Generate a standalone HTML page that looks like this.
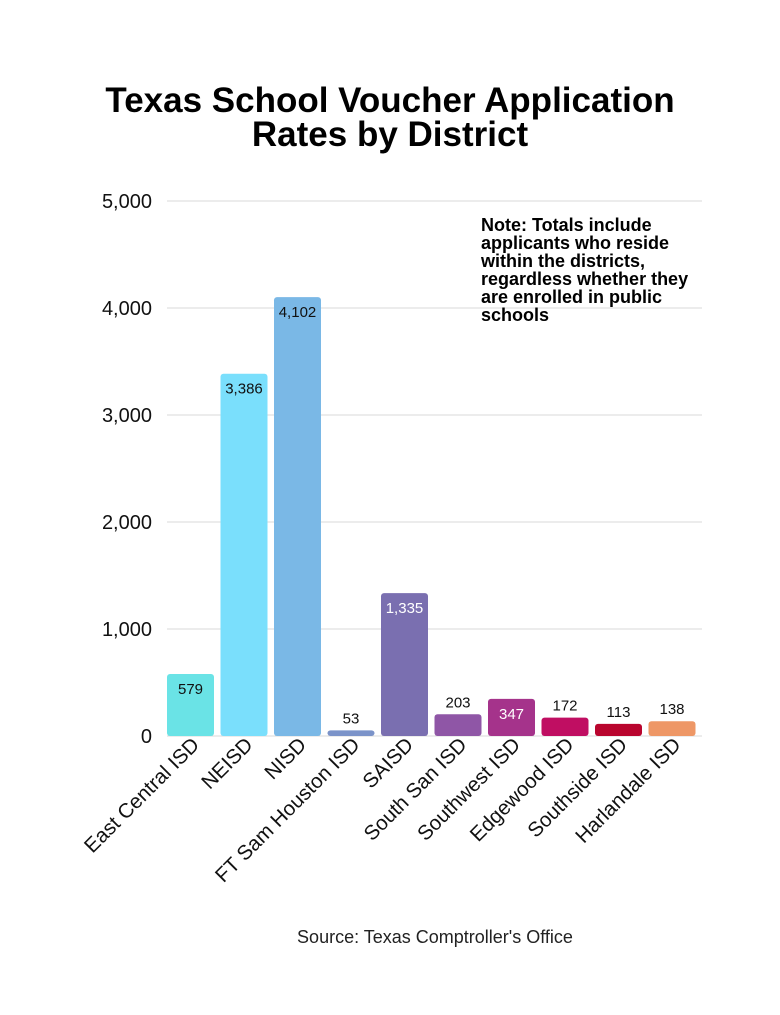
<!DOCTYPE html>
<html><head><meta charset="utf-8"><style>
body{margin:0;background:#fff;font-family:"Liberation Sans",sans-serif;}
</style></head><body>
<svg width="780" height="1010" viewBox="0 0 780 1010">
<text x="390" y="112" text-anchor="middle" font-size="35" font-weight="bold" fill="#000">Texas School Voucher Application</text>
<text x="390" y="146" text-anchor="middle" font-size="35" font-weight="bold" fill="#000">Rates by District</text>
<g id="grid"></g><g id="bars"></g><g id="xlabels"></g>
<text x="481" y="231" font-size="18" font-weight="bold"><tspan x="481" dy="0">Note: Totals include</tspan><tspan x="481" dy="18">applicants who reside</tspan><tspan x="481" dy="18">within the districts,</tspan><tspan x="481" dy="18">regardless whether they</tspan><tspan x="481" dy="18">are enrolled in public</tspan><tspan x="481" dy="18">schools</tspan></text>
<text x="435" y="943" text-anchor="middle" font-size="18" fill="#222">Source: Texas Comptroller's Office</text>
</svg>
<script>
const categories=["East Central ISD","NEISD","NISD","FT Sam Houston ISD","SAISD","South San ISD","Southwest ISD","Edgewood ISD","Southside ISD","Harlandale ISD"];
const values=[579,3386,4102,53,1335,203,347,172,113,138];
const labels=["579","3,386","4,102","53","1,335","203","347","172","113","138"];
const colors=["#6ae3e6","#7adffc","#7ab8e6","#7b93c9","#7a6fb0","#8f56a6","#a5338b","#c00e62","#b9052e","#ee9766"];
const insideWhite=[false,false,false,false,true,false,true,false,false,false];
const ticks=[0,1000,2000,3000,4000,5000];
const tickLabels=["0","1,000","2,000","3,000","4,000","5,000"];
const NS="http://www.w3.org/2000/svg";
const y=v=>736-v*0.107;
const x0=167,band=53.5,bw=47;
const xb=i=>x0+i*band;
function mk(t,a,p){const e=document.createElementNS(NS,t);for(const k in a)e.setAttribute(k,a[k]);p.appendChild(e);return e;}
const grid=document.getElementById('grid'),bars=document.getElementById('bars'),xl=document.getElementById('xlabels');
ticks.forEach((t,i)=>{
 const l=mk('line',{x1:167,x2:702,y1:y(t),y2:y(t),stroke:'#d9d9d9','stroke-width':1},grid);
 
 
 const tx=mk('text',{x:152,y:y(t)+7,'text-anchor':'end','font-size':20,fill:'#111'},grid);
 tx.textContent=tickLabels[i];
 
 
});
values.forEach((v,i)=>{
 const h=736-y(v);
 const r=mk('rect',{x:xb(i),y:y(v),width:bw,height:h,rx:3,fill:colors[i]},bars);
 
 
 const inside=h>30;
 const t=mk('text',{x:xb(i)+bw/2,y:inside?y(v)+20:y(v)-7,'text-anchor':'middle','font-size':15,fill:insideWhite[i]?'#fff':'#111'},bars);
 t.textContent=labels[i];
 
 
 const cx=xb(i)+bw/2+10,cy=746;
 const c=mk('text',{x:cx,y:cy,'text-anchor':'end','font-size':20.5,fill:'#111',transform:`rotate(-45 ${cx} ${cy})`},xl);
 c.textContent=categories[i];
 
 
});
</script>
</body></html>
